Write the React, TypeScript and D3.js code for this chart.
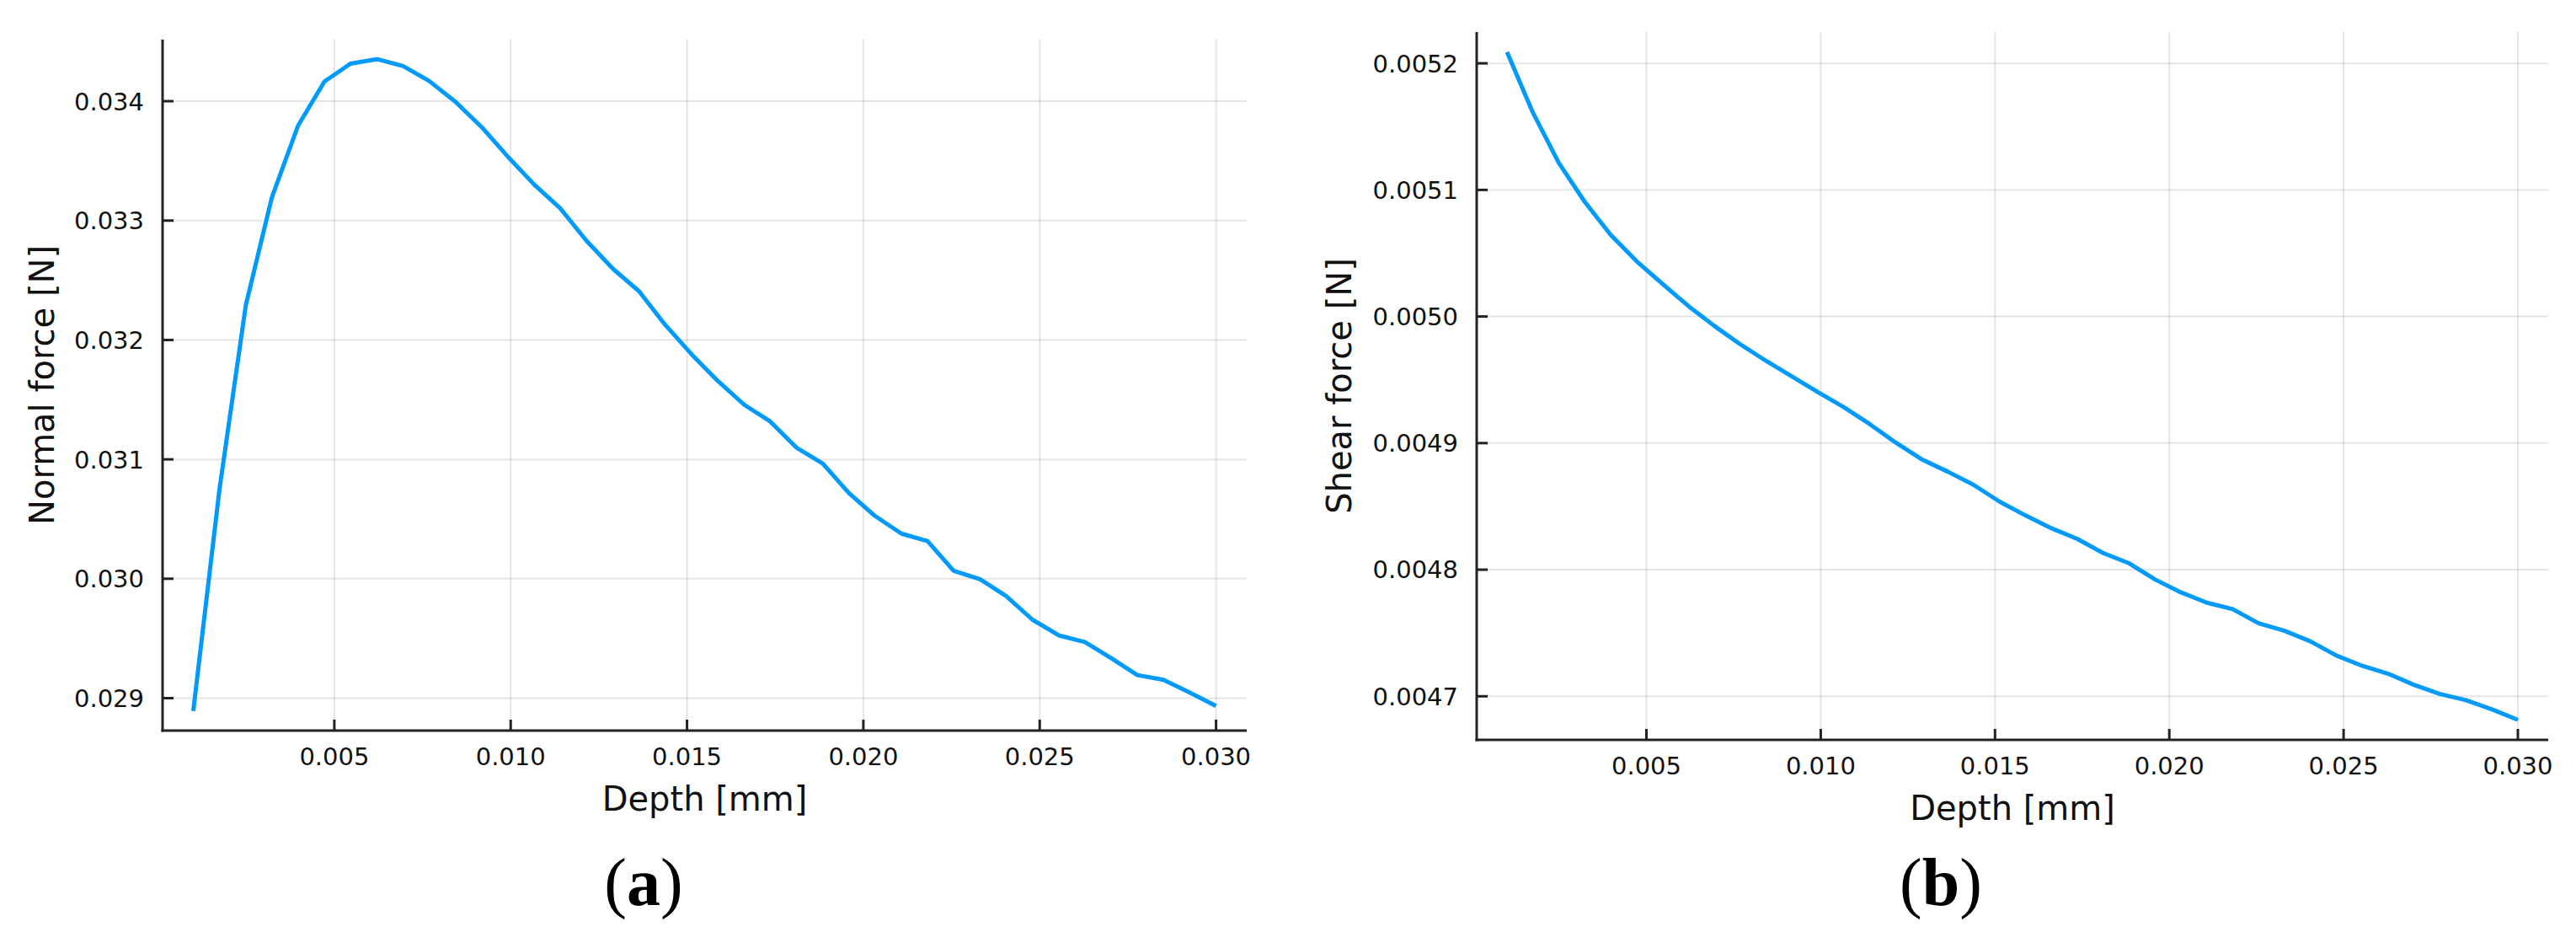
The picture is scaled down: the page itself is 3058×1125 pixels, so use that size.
import React from "react";
import * as d3 from "d3";

const depth = [
  0.001, 0.00174, 0.00249, 0.00323, 0.00397, 0.00472, 0.00546, 0.00621, 0.00695, 0.00769,
  0.00844, 0.00918, 0.00992, 0.01067, 0.01141, 0.01215, 0.0129, 0.01364, 0.01438, 0.01513,
  0.01587, 0.01662, 0.01736, 0.0181, 0.01885, 0.01959, 0.02033, 0.02108, 0.02182, 0.02256,
  0.02331, 0.02405, 0.02479, 0.02554, 0.02628, 0.02703, 0.02777, 0.02851, 0.02926, 0.03,
];

const normalForce = [
  0.028892, 0.030742, 0.032292, 0.033195, 0.033794, 0.034165, 0.034315, 0.034352, 0.034294, 0.034169,
  0.033993, 0.033782, 0.033535, 0.033301, 0.033101, 0.032831, 0.032596, 0.032408, 0.032127, 0.03188,
  0.031658, 0.031458, 0.031317, 0.031099, 0.030965, 0.030718, 0.030526, 0.030378, 0.030315, 0.030066,
  0.029996, 0.029855, 0.029658, 0.029526, 0.02947, 0.029334, 0.029193, 0.029153, 0.029045, 0.028935,
];

const shearForce = [
  0.0052089, 0.0051612, 0.0051212, 0.0050906, 0.0050646, 0.0050436, 0.0050258, 0.0050081, 0.0049925, 0.0049781,
  0.0049648, 0.0049525, 0.0049403, 0.0049282, 0.0049149, 0.0049004, 0.0048871, 0.0048775, 0.0048671, 0.0048538,
  0.0048429, 0.0048327, 0.0048243, 0.0048132, 0.004805, 0.0047923, 0.0047821, 0.0047739, 0.0047688, 0.0047577,
  0.0047517, 0.0047434, 0.0047322, 0.004724, 0.0047178, 0.0047089, 0.0047018, 0.0046969, 0.0046896, 0.0046814,
];

const xTicks = [0.005, 0.01, 0.015, 0.02, 0.025, 0.03];
const yTicksA = [0.029, 0.03, 0.031, 0.032, 0.033, 0.034];
const yTicksB = [0.0047, 0.0048, 0.0049, 0.005, 0.0051, 0.0052];

const xLabel = "Depth [mm]";
const yLabelA = "Normal force [N]";
const yLabelB = "Shear force [N]";

const LINE = "#009AFA";
const FONT = "'DejaVu Sans', sans-serif";

function padded(vals: number[]): [number, number] {
  const [lo, hi] = d3.extent(vals) as [number, number];
  const p = (hi - lo) * 0.03;
  return [lo - p, hi + p];
}

type PanelProps = {
  left: number; right: number; top: number; bottom: number;
  ys: number[]; yTicks: number[]; yFmt: string; yLabel: string; yLabelX: number;
  tag: string; tagX: number;
};

function Panel(p: PanelProps) {
  const x = d3.scaleLinear().domain(padded(depth)).range([p.left, p.right]);
  const y = d3.scaleLinear().domain(padded(p.ys)).range([p.bottom, p.top]);
  const line = d3.line<number>().x((_, i) => x(depth[i])).y((d) => y(d));
  const fx = d3.format(".3f");
  const fy = d3.format(p.yFmt);
  const midY = (p.top + p.bottom) / 2;
  const midX = (p.left + p.right) / 2;
  return (
    <g>
      {xTicks.map((t) => (
        <line key={"gx" + t} x1={x(t)} x2={x(t)} y1={p.top} y2={p.bottom} stroke="#000" strokeOpacity={0.1} strokeWidth={2} />
      ))}
      {p.yTicks.map((t) => (
        <line key={"gy" + t} x1={p.left} x2={p.right} y1={y(t)} y2={y(t)} stroke="#000" strokeOpacity={0.1} strokeWidth={2} />
      ))}
      <path d={line(p.ys) || ""} fill="none" stroke={LINE} strokeWidth={5} strokeLinejoin="round" />
      <line x1={p.left} x2={p.left} y1={p.top} y2={p.bottom + 1.5} stroke="#222" strokeWidth={3} />
      <line x1={p.left - 1.5} x2={p.right} y1={p.bottom} y2={p.bottom} stroke="#222" strokeWidth={3} />
      {xTicks.map((t) => (
        <g key={"tx" + t}>
          <line x1={x(t)} x2={x(t)} y1={p.bottom} y2={p.bottom - 13} stroke="#222" strokeWidth={3} />
          <text x={x(t)} y={p.bottom + 41} textAnchor="middle" fontFamily={FONT} fontSize={29} fill="#111">{fx(t)}</text>
        </g>
      ))}
      {p.yTicks.map((t) => (
        <g key={"ty" + t}>
          <line x1={p.left} x2={p.left + 13} y1={y(t)} y2={y(t)} stroke="#222" strokeWidth={3} />
          <text x={p.left - 22} y={y(t)} dy="0.36em" textAnchor="end" fontFamily={FONT} fontSize={29} fill="#111">{fy(t)}</text>
        </g>
      ))}
      <text x={midX} y={p.bottom + 95} textAnchor="middle" fontFamily={FONT} fontSize={40} fill="#111">{xLabel}</text>
      <text transform={`translate(${p.yLabelX},${midY}) rotate(-90)`} textAnchor="middle" fontFamily={FONT} fontSize={40} fill="#111">{p.yLabel}</text>
      <text x={p.tagX} y={1074} textAnchor="middle" fontFamily="'Liberation Serif', 'Times New Roman', serif" fontSize={80} fill="#000">
        (<tspan fontWeight="bold">{p.tag}</tspan>)
      </text>
    </g>
  );
}

export default function App() {
  return (
    <svg width={3058} height={1125} style={{ position: "absolute", left: 0, top: 0, background: "#fff" }}>
      <rect x={0} y={0} width={3058} height={1125} fill="#fff" />
      <Panel left={193} right={1480} top={47} bottom={867} ys={normalForce} yTicks={yTicksA} yFmt=".3f"
        yLabel={yLabelA} yLabelX={64} tag="a" tagX={764} />
      <Panel left={1753} right={3025} top={38} bottom={878} ys={shearForce} yTicks={yTicksB} yFmt=".4f"
        yLabel={yLabelB} yLabelX={1604} tag="b" tagX={2304} />
    </svg>
  );
}
